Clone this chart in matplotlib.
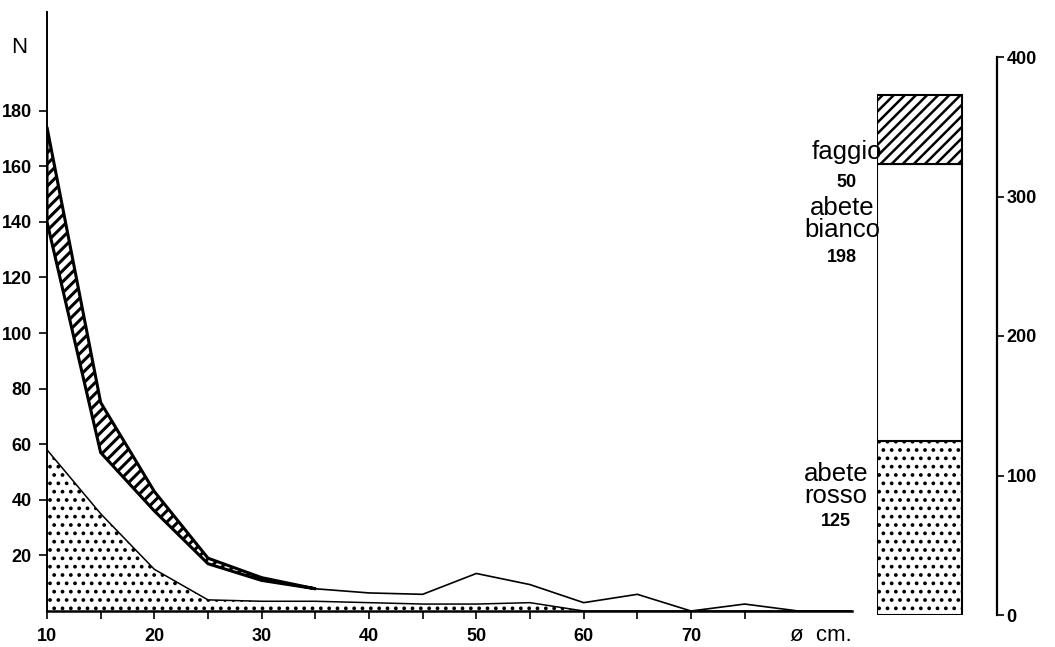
"""Diameter distribution (N per 5 cm class) and species composition bar."""

import matplotlib.pyplot as plt
import numpy as np

# diameter classes (cm)
diam = np.array([10, 15, 20, 25, 30, 35, 40, 45, 50, 55, 60, 65, 70, 75, 80, 85])

# number of stems per class, stacked from bottom
rosso = np.array([58, 35, 15, 4, 3.5, 3.5, 3, 2.5, 2.5, 3, 0, 0, 0, 0, 0, 0])
bianco = np.array([82, 22, 21, 13, 7.5, 4.5, 3.5, 3.5, 11, 6.5, 3, 6, 0, 2.5, 0, 0])
faggio = np.array([34, 18, 7, 2, 1, 0])

# totals for the bar on the right
species = ["abete\nrosso", "abete\nbianco", "faggio"]
totals = [125, 198, 50]

x_ticks = [10, 20, 30, 40, 50, 60, 70]
y_ticks = [20, 40, 60, 80, 100, 120, 140, 160, 180]
bar_ticks = [0, 100, 200, 300, 400]

W, H = 1055, 647
fig = plt.figure(figsize=(W / 100, H / 100), dpi=100)
bold = dict(family="Liberation Sans", weight="bold", size=13)
light = dict(family="Liberation Sans", size=18.5)


def set_hlw(artist, lw):
    if hasattr(artist, "set_hatch_linewidth"):
        artist.set_hatch_linewidth(lw)


# ---- main curve panel
ax = fig.add_axes([47 / W, (H - 611) / H, 805 / W, 599 / H])
ax.set_xlim(10, 85)
ax.set_ylim(0, 215.5)

rb = rosso + bianco
n = len(faggio)
with plt.rc_context({"hatch.linewidth": 1.5}):
    f1 = ax.fill_between(diam, 0, rosso, facecolor="white", edgecolor="k",
                         hatch="..", linewidth=0)
set_hlw(f1, 1.5)
ax.plot(diam, rosso, color="k", lw=1.1)
ax.plot(diam, rb, color="k", lw=1.2)

with plt.rc_context({"hatch.linewidth": 2.2}):
    f2 = ax.fill_between(diam[:n], rb[:n], rb[:n] + faggio, facecolor="white",
                         edgecolor="k", hatch="///", linewidth=2.2)
set_hlw(f2, 2.2)

for s in ["top", "right"]:
    ax.spines[s].set_visible(False)
ax.spines["left"].set_linewidth(1.4)
ax.spines["bottom"].set_linewidth(1.8)

ax.set_xticks(x_ticks)
ax.set_xticks(np.arange(15, 80, 10), minor=True)
ax.set_yticks(y_ticks)
ax.tick_params(axis="both", which="both", direction="out", length=6, width=1.2)
ax.tick_params(axis="x", pad=6)
ax.tick_params(axis="y", pad=5)
ax.set_xticklabels([str(v) for v in x_ticks], **bold)
ax.set_yticklabels([str(v) for v in y_ticks], **bold)

ax.text(-0.034, 0.94, "N", transform=ax.transAxes, ha="center", va="center",
        family="Liberation Sans", size=16)
ax.text(79.2, -5.0, "ø  cm.", ha="left", va="top", clip_on=False,
        family="Liberation Sans", size=16)

# ---- species bar
ax2 = fig.add_axes([877 / W, (H - 615) / H, 120 / W, 558 / H])
ax2.set_xlim(0, 120 / 85)
ax2.set_ylim(0, 400)

hatches = ["..", "", "///"]
hlws = [1.5, 1.0, 1.8]
bottom = 0
for tot, hat, hlw in zip(totals, hatches, hlws):
    with plt.rc_context({"hatch.linewidth": hlw}):
        b = ax2.bar(0, tot, width=1, bottom=bottom, align="edge",
                    facecolor="white", edgecolor="k", hatch=hat, linewidth=1.5)
    for p in b:
        set_hlw(p, hlw)
    bottom += tot

# labels beside the bar: (x centre, y of name, y of number)
label_pos = [(-0.48, 93, 67), (-0.41, 284, 256), (-0.36, 332, 310)]
for name, tot, (lx, ly, ny) in zip(species, totals, label_pos):
    ax2.text(lx, ly, name, ha="center", va="center", linespacing=0.9,
             clip_on=False, **light)
    ax2.text(lx, ny, str(tot), ha="center", va="center", clip_on=False, **bold)

for s in ["top", "left", "bottom"]:
    ax2.spines[s].set_visible(False)
ax2.spines["right"].set_linewidth(1.6)
ax2.set_xticks([])
ax2.yaxis.tick_right()
ax2.set_yticks(bar_ticks)
ax2.set_yticklabels([str(v) for v in bar_ticks], **bold)
ax2.tick_params(axis="y", direction="out", length=5, width=1.2, pad=2)

fig.savefig("out.png", dpi=100)
